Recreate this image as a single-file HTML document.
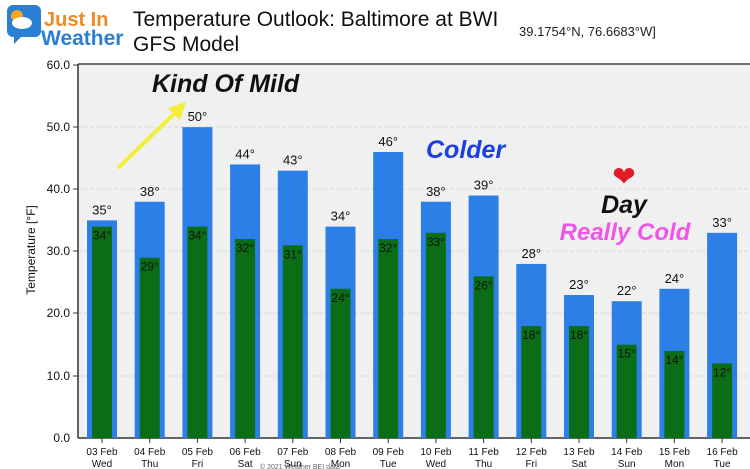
<!DOCTYPE html>
<html><head><style>body{margin:0;background:#fff}svg{display:block}</style></head><body>
<svg width="750" height="469" xmlns="http://www.w3.org/2000/svg" font-family="Liberation Sans, DejaVu Sans, sans-serif">
<rect width="750" height="469" fill="#fff"/>
<!-- logo -->
<rect x="7" y="5" width="34" height="32" rx="6" fill="#2a7fd4"/>
<polygon points="14,36 22,36 14,44" fill="#2a7fd4"/>
<circle cx="17" cy="16" r="6" fill="#f5a623"/>
<ellipse cx="22" cy="23" rx="10" ry="6" fill="#fff"/>
<text x="44" y="26" font-size="20" font-weight="bold" fill="#f08a24">Just In</text>
<text x="41" y="45" font-size="21" font-weight="bold" fill="#2a7fd4">Weather</text>
<text x="133" y="26" font-size="21" fill="#111">Temperature Outlook: Baltimore at BWI</text>
<text x="133" y="51" font-size="21" fill="#111">GFS Model</text>
<text x="519" y="36" font-size="13" fill="#222">39.1754°N, 76.6683°W]</text>
<!-- plot -->
<rect x="78" y="65" width="672" height="373" fill="#f0f0f0"/>
<line x1="78" y1="64" x2="750" y2="64" stroke="#444" stroke-width="1.5"/>
<g stroke="#d8d8d8" stroke-dasharray="4,2">
<line x1="78" y1="127" x2="750" y2="127"/><line x1="78" y1="189" x2="750" y2="189"/>
<line x1="78" y1="251" x2="750" y2="251"/><line x1="78" y1="313" x2="750" y2="313"/>
<line x1="78" y1="376" x2="750" y2="376"/>
</g>
<line x1="78" y1="64" x2="78" y2="438" stroke="#333" stroke-width="1.5"/>
<line x1="78" y1="438" x2="750" y2="438" stroke="#333" stroke-width="1.5"/>
<g font-size="12" fill="#111" text-anchor="end">
<text x="70" y="69">60.0</text><text x="70" y="131">50.0</text><text x="70" y="193">40.0</text>
<text x="70" y="255">30.0</text><text x="70" y="317">20.0</text><text x="70" y="380">10.0</text><text x="70" y="442">0.0</text>
</g>
<g stroke="#333"><line x1="73" y1="65" x2="78" y2="65"/><line x1="73" y1="127" x2="78" y2="127"/><line x1="73" y1="189" x2="78" y2="189"/><line x1="73" y1="251" x2="78" y2="251"/><line x1="73" y1="313" x2="78" y2="313"/><line x1="73" y1="376" x2="78" y2="376"/></g>
<text transform="translate(35,250) rotate(-90)" font-size="12" text-anchor="middle" fill="#111">Temperature [°F]</text>
<g id="bars"></g>
<!-- annotations -->
<text x="152" y="92" font-size="25" font-weight="bold" font-style="italic" fill="#111">Kind Of Mild</text>
<line x1="118" y1="168" x2="176" y2="112" stroke="#f2ee3a" stroke-width="4"/>
<polygon points="186,102 168,108 180,120" fill="#f2ee3a"/>
<text x="426" y="158" font-size="25" font-weight="bold" font-style="italic" fill="#1a3ee0">Colder</text>
<text x="624" y="186" font-size="28" text-anchor="middle" fill="#e01b2a">❤</text>
<text x="624" y="213" font-size="25" font-weight="bold" font-style="italic" fill="#111" text-anchor="middle">Day</text>
<text x="625" y="240" font-size="24" font-weight="bold" font-style="italic" fill="#ee55e8" text-anchor="middle">Really Cold</text>
<text x="260" y="469" font-size="7" fill="#666">© 2021 Weather BEI data</text>
</svg>
<script>
var hi=[35,38,50,44,43,34,46,38,39,28,23,22,24,33],lo=[34,29,34,32,31,24,32,33,26,18,18,15,14,12];
var d=["03 Feb","04 Feb","05 Feb","06 Feb","07 Feb","08 Feb","09 Feb","10 Feb","11 Feb","12 Feb","13 Feb","14 Feb","15 Feb","16 Feb"];
var w=["Wed","Thu","Fri","Sat","Sun","Mon","Tue","Wed","Thu","Fri","Sat","Sun","Mon","Tue"];
var s="";
for(var i=0;i<14;i++){var c=102+i*47.7,yh=438-hi[i]*6.217,yl=438-lo[i]*6.217;
s+='<rect x="'+(c-15)+'" y="'+yh+'" width="30" height="'+(438-yh)+'" fill="#2b7fe6"/>';
s+='<rect x="'+(c-10)+'" y="'+yl+'" width="20" height="'+(438-yl)+'" fill="#0b6e17"/>';
s+='<text x="'+c+'" y="'+(yh-6)+'" font-size="13" text-anchor="middle" fill="#111">'+hi[i]+'°</text>';
s+='<text x="'+c+'" y="'+(yl+13)+'" font-size="12" text-anchor="middle" fill="#111">'+lo[i]+'°</text>';
s+='<line x1="'+c+'" y1="438" x2="'+c+'" y2="443" stroke="#333"/>';
s+='<text x="'+c+'" y="455" font-size="10" text-anchor="middle" fill="#111">'+d[i]+'</text>';
s+='<text x="'+c+'" y="467" font-size="10" text-anchor="middle" fill="#111">'+w[i]+'</text>';}
document.getElementById("bars").innerHTML=s;
</script>
</body></html>
